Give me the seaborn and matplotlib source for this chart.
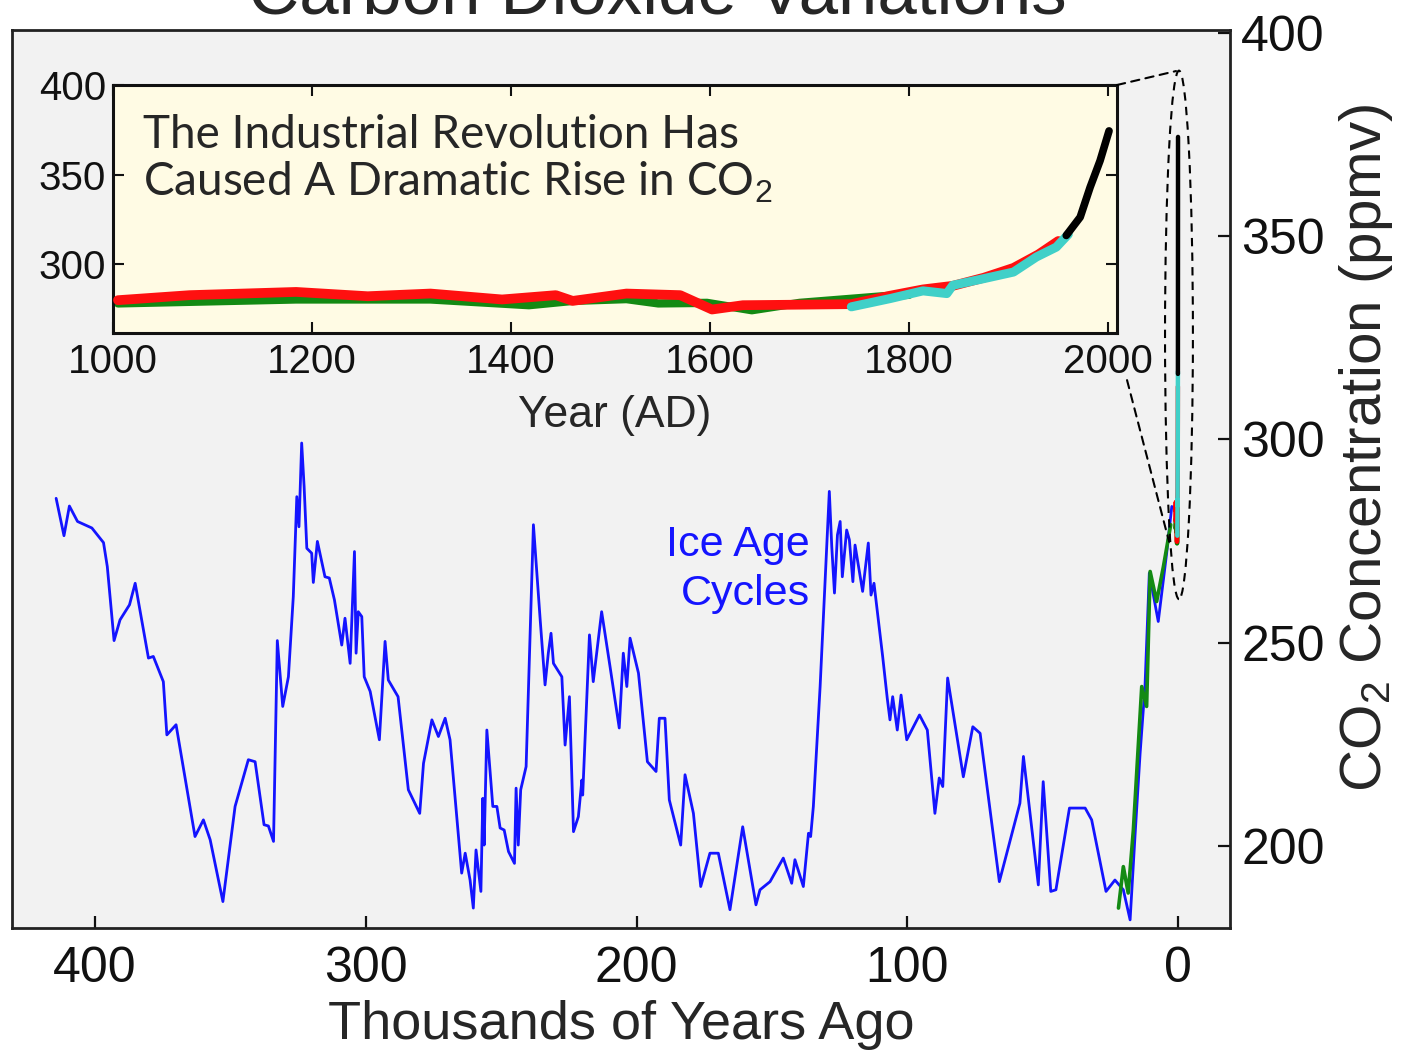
import numpy as np
import pandas as pd
import seaborn as sns
import matplotlib.pyplot as plt
from matplotlib.patches import Ellipse, ConnectionPatch

# ---------------- data ----------------
# Vostok ice core: thousands of years ago / CO2 (ppmv)
vostok_ka = [414.4, 411.5, 409.5, 406.5, 401.2, 396.9, 395.5, 393.0, 390.8, 387.3,
             385.2, 380.3, 378.5, 374.8, 373.5, 370.1, 363.1, 360.0, 357.5, 352.8,
             348.3, 343.4, 340.9, 337.6, 336.0, 334.1, 332.7, 330.7, 328.6, 326.8,
             325.5, 324.7, 323.7, 322.8, 321.8, 320.0, 319.4, 317.9, 315.1, 313.5,
             311.6, 308.9, 307.7, 305.8, 304.2, 303.6, 302.8, 301.5, 300.6, 298.4,
             295.0, 292.9, 291.7, 288.1, 284.3, 280.1, 278.7, 275.6, 273.2, 270.7,
             268.9, 264.6, 263.3, 261.5, 260.3, 259.3, 257.5, 256.8, 256.3, 255.3,
             253.1, 251.6, 250.4, 248.9, 247.3, 245.1, 244.5, 243.7, 242.8, 240.8,
             238.1, 235.6, 233.8, 232.6, 231.6, 230.7, 227.6, 226.4, 224.8, 223.3,
             221.5, 220.2, 219.9, 217.4, 216.0, 212.9, 209.8, 206.4, 204.9, 203.6,
             202.4, 199.3, 196.0, 192.8, 191.6, 189.5, 187.9, 183.7, 182.1, 179.0,
             176.3, 172.9, 169.8, 165.5, 160.8, 155.9, 154.4, 150.7, 145.8, 142.7,
             141.5, 138.4, 136.5, 135.7, 134.7, 132.2, 128.8, 127.9, 126.9, 125.8,
             124.8, 124.0, 122.4, 121.4, 120.1, 119.3, 116.5, 114.4, 113.4, 112.3,
             109.1, 107.4, 106.4, 105.4, 103.7, 102.3, 100.2, 95.5, 92.6, 89.8,
             88.2, 86.9, 85.1, 79.3, 75.8, 73.1, 66.0, 58.4, 57.1, 51.6,
             49.8, 47.0, 45.1, 40.1, 34.3, 31.9, 26.6, 23.3, 20.2, 17.7,
             15.9, 14.0, 12.2, 10.6, 7.3, 4.2, 2.3]
vostok_co2 = [285.5, 276.3, 283.6, 279.8, 278.2, 274.6, 268.7, 250.5, 255.6, 259.3,
              264.6, 246.2, 246.6, 240.4, 227.3, 229.8, 202.3, 206.4, 201.5, 186.3,
              209.7, 221.2, 220.7, 205.2, 204.9, 201.1, 250.5, 234.3, 241.6, 261.3,
              285.9, 278.5, 299.1, 288.4, 273.2, 272.0, 264.8, 274.9, 266.2, 265.9,
              260.5, 249.4, 256.0, 244.9, 272.4, 247.4, 257.6, 256.4, 241.6, 238.0,
              226.1, 250.3, 240.8, 236.7, 213.8, 208.0, 220.3, 231.0, 226.9, 231.4,
              226.1, 193.3, 198.2, 191.6, 184.7, 199.0, 188.8, 211.7, 200.2, 228.5,
              209.7, 209.7, 204.4, 203.9, 198.6, 195.7, 214.2, 200.2, 213.8, 219.5,
              279.0, 255.6, 239.6, 247.4, 252.3, 244.9, 241.6, 224.8, 236.7, 203.5,
              207.2, 216.2, 212.5, 251.9, 240.4, 257.6, 244.1, 229.0, 247.4, 239.2,
              251.1, 242.5, 220.7, 218.3, 231.4, 231.4, 211.3, 200.2, 217.5, 208.0,
              190.0, 198.2, 198.2, 184.3, 204.7, 185.5, 189.2, 191.2, 197.0, 190.8,
              196.6, 190.0, 203.1, 202.3, 209.7, 239.2, 287.2, 273.6, 262.2, 276.5,
              279.8, 266.2, 277.7, 275.3, 265.0, 274.0, 262.6, 274.5, 261.7, 264.6,
              246.6, 236.3, 231.0, 236.7, 228.5, 237.1, 226.1, 232.2, 228.5, 208.0,
              216.7, 214.6, 241.3, 217.0, 229.3, 227.7, 191.2, 210.5, 222.0, 190.4,
              215.8, 188.8, 189.2, 209.3, 209.3, 206.4, 188.8, 191.6, 189.2, 181.8,
              202.3, 222.8, 239.2, 267.1, 255.2, 272.0, 283.5]

# other Antarctic core over the deglaciation
dome_ka = [22.0, 20.2, 18.4, 16.5, 13.4, 11.6, 10.3, 7.9, 5.4, 2.7]
dome_co2 = [184.7, 194.9, 188.4, 203.9, 239.2, 234.3, 267.5, 260.1, 268.7, 279.0]

# last millennium, year AD / CO2 (ppmv)
green_year = [1005, 1184, 1319, 1418, 1462, 1516, 1548, 1597, 1642, 1690, 1774, 1800]
green_co2 = [278.2, 280.4, 280.4, 277.2, 279.6, 280.6, 278.2, 278.5, 274.4, 278.5, 282.2, 283.0]

red_year = [1005, 1077, 1184, 1256, 1319, 1391, 1445, 1462, 1516, 1570, 1602, 1633,
            1690, 1742, 1781, 1814, 1844, 1875, 1905, 1930, 1950]
red_co2 = [280.0, 282.8, 284.6, 282.2, 283.7, 280.4, 282.8, 279.6, 283.7, 282.8, 274.8, 277.2,
           277.5, 277.8, 282.5, 286.0, 288.0, 292.5, 298.0, 305.5, 313.0]

cyan_year = [1742, 1781, 1814, 1838, 1844, 1875, 1905, 1928, 1948, 1960]
cyan_co2 = [276.3, 280.9, 285.2, 283.7, 288.3, 292.0, 295.7, 304.1, 309.6, 316.7]

black_year = [1958, 1972, 1982, 1992, 2001]
black_co2 = [316.1, 326.3, 343.0, 357.8, 374.4]

main_xticks = [400, 300, 200, 100, 0]
main_yticks = [200, 250, 300, 350, 400]
inset_xticks = [1000, 1200, 1400, 1600, 1800, 2000]
inset_yticks = [300, 350, 400]

# recent series drawn as ka on the main axes
recent = [(green_year, green_co2, "green"), (red_year, red_co2, "red"),
          (cyan_year, cyan_co2, "#40d0c8"), (black_year, black_co2, "black")]

# ---------------- style ----------------
sns.set_style("ticks")
plt.rcParams["font.family"] = ["Liberation Sans", "DejaVu Sans"]
plt.rcParams["mathtext.fontset"] = "custom"
plt.rcParams["mathtext.rm"] = "Liberation Sans"
plt.rcParams["mathtext.it"] = "Liberation Sans"

W, H = 1406, 1058
fig = plt.figure(figsize=(W / 100, H / 100), dpi=100)
fig.patch.set_facecolor("white")

# main axes
ax = fig.add_axes([12 / W, 1 - 928 / H, 1218 / W, 898 / H])
ax.set_facecolor("#f2f2f2")
sns.lineplot(x=vostok_ka, y=vostok_co2, ax=ax, color="#1414ff", lw=2.0,
             sort=False, estimator=None, zorder=3)
sns.lineplot(x=dome_ka, y=dome_co2, ax=ax, color="#138a13", lw=2.6,
             sort=False, estimator=None, zorder=4)
for yrs, co2, c in recent:
    sns.lineplot(x=[(2000 - y) / 1000 for y in yrs], y=co2, ax=ax, color=c, lw=3.2,
                 sort=False, estimator=None, zorder=5)

ax.set_xlim(430.7, -19.2)
ax.set_ylim(179.8, 400.7)
ax.set_xticks(main_xticks)
ax.set_yticks(main_yticks)
ax.yaxis.tick_right()
ax.yaxis.set_label_position("right")
ax.tick_params(direction="in", length=9, width=1.6, labelsize=36, colors="#111111")
ax.tick_params(axis="x", pad=13)
ax.tick_params(axis="y", pad=8)
for s in ax.spines.values():
    s.set_visible(True)
    s.set_linewidth(2.0)
    s.set_color("#222222")
ax.set_xlabel("Thousands of Years Ago", fontsize=39, labelpad=6)
ax.set_ylabel("CO$_2$ Concentration (ppmv)", fontsize=42)
ax.yaxis.set_label_coords(1.088, 0.5345)

ax.text(135.9, 268.0, "Ice Age\nCycles", color="#1414ff", fontsize=31,
        ha="right", va="center", multialignment="right", linespacing=1.3)

# dashed zoom marker round the last millennium
ax.add_patch(Ellipse((-0.35, 325.7), width=10.3, height=130, fill=False,
                     ls=(0, (4, 3)), lw=1.5, ec="black", zorder=6))

# inset
ins = fig.add_axes([113 / W, 1 - 333 / H, 1004 / W, 248 / H])
ins.set_facecolor("#fffbe4")
sns.lineplot(x=green_year, y=green_co2, ax=ins, color="#138a13", lw=6,
             sort=False, estimator=None, zorder=2)
sns.lineplot(x=red_year, y=red_co2, ax=ins, color="#ff1010", lw=7,
             sort=False, estimator=None, zorder=3)
sns.lineplot(x=cyan_year, y=cyan_co2, ax=ins, color="#40d0c8", lw=6.5,
             sort=False, estimator=None, zorder=4)
sns.lineplot(x=black_year, y=black_co2, ax=ins, color="black", lw=5.5,
             sort=False, estimator=None, zorder=5)
ins.set_xlim(1000, 2009)
ins.set_ylim(261.7, 399.5)
ins.set_xticks(inset_xticks)
ins.set_yticks(inset_yticks)
ins.tick_params(direction="in", length=8, width=1.5, labelsize=29, top=True, right=True,
                colors="#111111")
ins.tick_params(axis="x", pad=7)
ins.tick_params(axis="y", pad=5)
for s in ins.spines.values():
    s.set_visible(True)
    s.set_linewidth(2.2)
    s.set_color("#111111")
ins.set_xlabel("Year (AD)", fontsize=32, labelpad=10)
ins.set_ylabel("")
ins.text(0.03, 0.885, "The Industrial Revolution Has\nCaused A Dramatic Rise in CO$_2$",
         transform=ins.transAxes, fontsize=33, family=["Lato", "DejaVu Sans"],
         va="top", ha="left", linespacing=1.1)

# connectors from the inset to the marker
for xyA, xyB in [((1.0, 1.0), (0.74, 390.6)), ((1.01, -0.19), (3.3, 274.8))]:
    con = ConnectionPatch(xyA=xyA, coordsA=ins.transAxes, xyB=xyB, coordsB=ax.transData,
                          ls=(0, (4, 3)), lw=1.5, color="black")
    fig.add_artist(con)

# title sits mostly above the top edge, as in the original
fig.text(657 / W, 1 - 13 / H, "Carbon Dioxide Variations", fontsize=51,
         ha="center", va="baseline")

fig.savefig("out.png", dpi=100)
